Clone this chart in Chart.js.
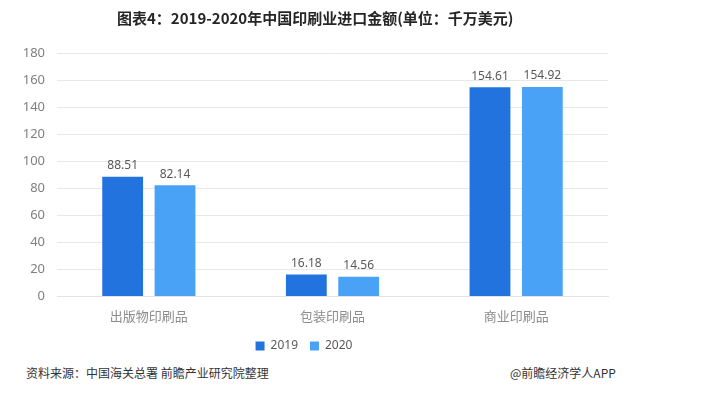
<!DOCTYPE html>
<html>
<head>
<meta charset="utf-8">
<script src="https://cdn.jsdelivr.net/npm/chart.js@4"></script>
<style>
  html, body { margin: 0; padding: 0; background: #fff; }
  #wrap { position: relative; width: 712px; height: 393px; overflow: hidden; font-family: "Noto Sans CJK SC", "Noto Sans", sans-serif; }
  #title { position: absolute; left: 117px; top: 7px; font-size: 15px; font-weight: bold; color: #262626; white-space: nowrap; }
  #box { position: absolute; left: 0; top: 0; width: 712px; height: 362px; }
  .foot { position: absolute; top: 364px; font-size: 12px; color: #333; }
</style>
</head>
<body>
<div id="wrap">
  <div id="box"><canvas id="chartBar"></canvas></div>
  <div id="title">图表4：2019-2020年中国印刷业进口金额(单位：千万美元)</div>
  <div class="foot" style="left:26px">资料来源：中国海关总署 前瞻产业研究院整理</div>
  <div class="foot" style="left:510px">@前瞻经济学人APP</div>
</div>
<script>
// ==================== DATOS ====================
const categorias = ['出版物印刷品', '包装印刷品', '商业印刷品'];
const valores2019 = [88.51, 16.18, 154.61];
const valores2020 = [82.14, 14.56, 154.92];
const ticksY = [0, 20, 40, 60, 80, 100, 120, 140, 160, 180];

// etiquetas de valor encima de cada barra
const etiquetas = {
    id: 'etiquetas',
    afterDatasetsDraw(chart) {
        const ctx = chart.ctx;
        ctx.save();
        ctx.font = '12px "Noto Sans", "Open Sans", sans-serif';
        ctx.fillStyle = '#595959';
        ctx.textAlign = 'center';
        ctx.textBaseline = 'bottom';
        chart.data.datasets.forEach((ds, i) => {
            chart.getDatasetMeta(i).data.forEach((bar, j) => {
                ctx.fillText(ds.data[j].toFixed(2), bar.x, bar.y - 5);
            });
        });
        ctx.restore();
    }
};

document.addEventListener("DOMContentLoaded", function() {
    const ctx = document.getElementById("chartBar").getContext("2d");

    new Chart(ctx, {
        type: 'bar',
        data: {
            labels: categorias,
            datasets: [{
                label: '2019',
                data: valores2019,
                backgroundColor: '#2273DE'
            }, {
                label: '2020',
                data: valores2020,
                backgroundColor: '#4AA2F7'
            }]
        },
        options: {
            responsive: true,
            maintainAspectRatio: false,
            animation: false,
            categoryPercentage: 0.57,
            barPercentage: 0.78,
            layout: { padding: { top: 53, right: 104, left: 0, bottom: 0 } },
            plugins: {
                legend: {
                    position: 'bottom',
                    labels: {
                        boxWidth: 9, boxHeight: 9, padding: 12,
                        color: '#595959',
                        font: { size: 12, family: '"Noto Sans", sans-serif' }
                    }
                },
                tooltip: { enabled: false }
            },
            scales: {
                x: {
                    grid: { display: false },
                    border: { color: '#e3e3e3' },
                    ticks: {
                        color: '#8c8c8c',
                        padding: 4,
                        font: { size: 13, family: '"Noto Sans CJK SC", sans-serif' }
                    }
                },
                y: {
                    min: 0, max: 180,
                    afterFit(scale) { scale.width = 57; },
                    afterBuildTicks(scale) { scale.ticks = ticksY.map(v => ({ value: v })); },
                    grid: { color: '#e8e8e8', drawTicks: false },
                    border: { display: false },
                    ticks: {
                        color: '#7f7f7f',
                        padding: 12,
                        font: { size: 13, family: '"Noto Sans", sans-serif' }
                    }
                }
            }
        },
        plugins: [etiquetas]
    });
});
</script>
</body>
</html>
